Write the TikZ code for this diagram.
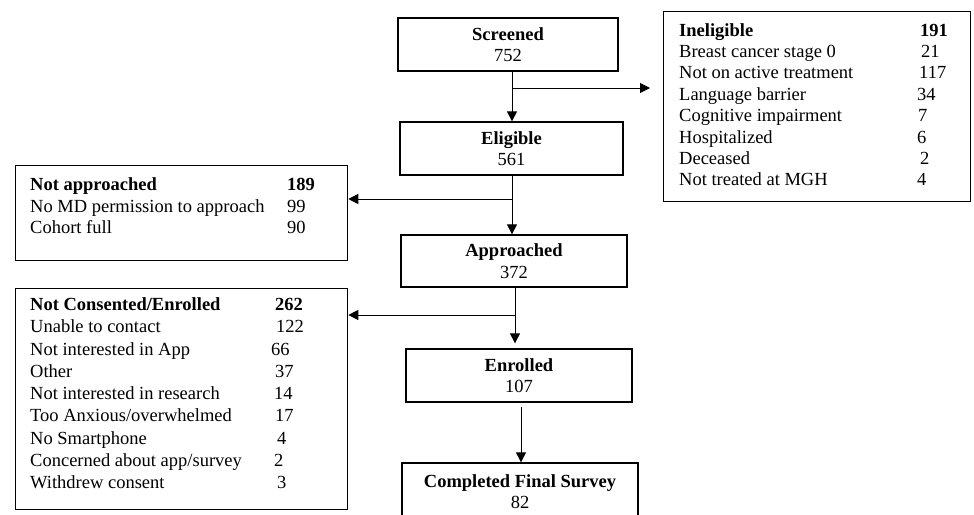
\documentclass[tikz,border=0pt]{standalone}
\usepackage{fontspec}
\setmainfont{Liberation Serif}
\usetikzlibrary{arrows.meta,calc}
\newcommand\listrow[6]{%
  \node[lab] (#1a) at (#2,#4) {#5};
  \node[lab] (#1b) at (#3,#4) {#6};}
\begin{document}
\begin{tikzpicture}[x=1pt,y=-1pt,
  every node/.style={font=\fontsize{18.5}{21.5}\selectfont},
  cbox/.style={draw, line width=1.3pt, rectangle, align=center, inner sep=0pt},
  lbox/.style={draw, line width=1.3pt, rectangle, anchor=north west, inner sep=0pt},
  lab/.style={anchor=base west, inner sep=0pt},
  arr/.style={line width=1pt, -{Triangle[length=10pt,width=10pt]}}]
\useasboundingbox (0,0) rectangle (974,514);
\clip (-1,-1) rectangle (975,514);

% main column
\node[cbox, minimum width=220pt, minimum height=53pt] (scr) at (508,44.5) {\textbf{Screened}\\752};
\node[cbox, minimum width=223pt, minimum height=53pt] (eli) at (511.5,148.5) {\textbf{Eligible}\\561};
\node[cbox, minimum width=226pt, minimum height=52pt] (app) at (514,261) {\textbf{Approached}\\372};
\node[cbox, minimum width=226pt, minimum height=53pt] (enr) at (519,375.5) {\textbf{Enrolled}\\107};
\node[cbox, minimum width=236pt, minimum height=57pt] (comp) at (520,491.5) {\textbf{Completed Final Survey}\\82};

% side boxes
\node[lbox, minimum width=307pt, minimum height=190pt] (inel) at (663,11) {};
\node[lbox, minimum width=332pt, minimum height=95pt] (nap) at (15,165) {};
\node[lbox, minimum width=332pt, minimum height=221pt] (ncon) at (15,288) {};

% Ineligible list
\listrow{i0}{679}{920}{36}{\textbf{Ineligible}}{\textbf{191}}
\listrow{i1}{679}{921}{57.4}{Breast cancer stage 0}{21}
\listrow{i2}{679}{919}{78.8}{Not on active treatment}{117}
\listrow{i3}{679}{917}{100.2}{Language barrier}{34}
\listrow{i4}{679}{918}{121.6}{Cognitive impairment}{7}
\listrow{i5}{679}{917}{143}{Hospitalized}{6}
\listrow{i6}{679}{920}{164.4}{Deceased}{2}
\listrow{i7}{679}{917}{185.8}{Not treated at MGH}{4}

% Not approached list
\listrow{a0}{30}{287}{190.5}{\textbf{Not approached}}{\textbf{189}}
\listrow{a1}{30}{287}{212}{No MD permission to approach}{99}
\listrow{a2}{30}{287}{233.5}{Cohort full}{90}

% Not consented list
\listrow{c0}{30}{275}{310.5}{\textbf{Not Consented/Enrolled}}{\textbf{262}}
\listrow{c1}{30}{276}{332.75}{Unable to contact}{122}
\listrow{c2}{30}{271}{355}{Not interested in App}{66}
\listrow{c3}{30}{275}{377.25}{Other}{37}
\listrow{c4}{30}{274}{399.5}{Not interested in research}{14}
\listrow{c5}{30}{275}{421.75}{Too Anxious/overwhelmed}{17}
\listrow{c6}{30}{277}{444}{No Smartphone}{4}
\listrow{c7}{30}{274}{466.25}{Concerned about app/survey}{2}
\listrow{c8}{30}{277}{488.5}{Withdrew consent}{3}

% connectors
\coordinate (k1) at (512,88);
\coordinate (k1t) at (650,88);
\draw[arr] (k1 |- scr.south) -- (k1 |- eli.north);
\draw[arr] (k1) -- (k1t);

\coordinate (k2) at (512,199);
\draw[arr] (k2 |- eli.south) -- (k2 |- app.north);
\draw[arr] (k2) -- (k2 -| nap.east);

\coordinate (k3) at (515,315);
\draw[arr, shorten >=5pt] (k3 |- app.south) -- (k3 |- enr.north);
\draw[arr] (k3) -- (k3 -| ncon.east);

\coordinate (k4) at (521,420);
\draw[arr, shorten <=4pt] (k4 |- enr.south) -- (k4 |- comp.north);
\end{tikzpicture}
\end{document}
